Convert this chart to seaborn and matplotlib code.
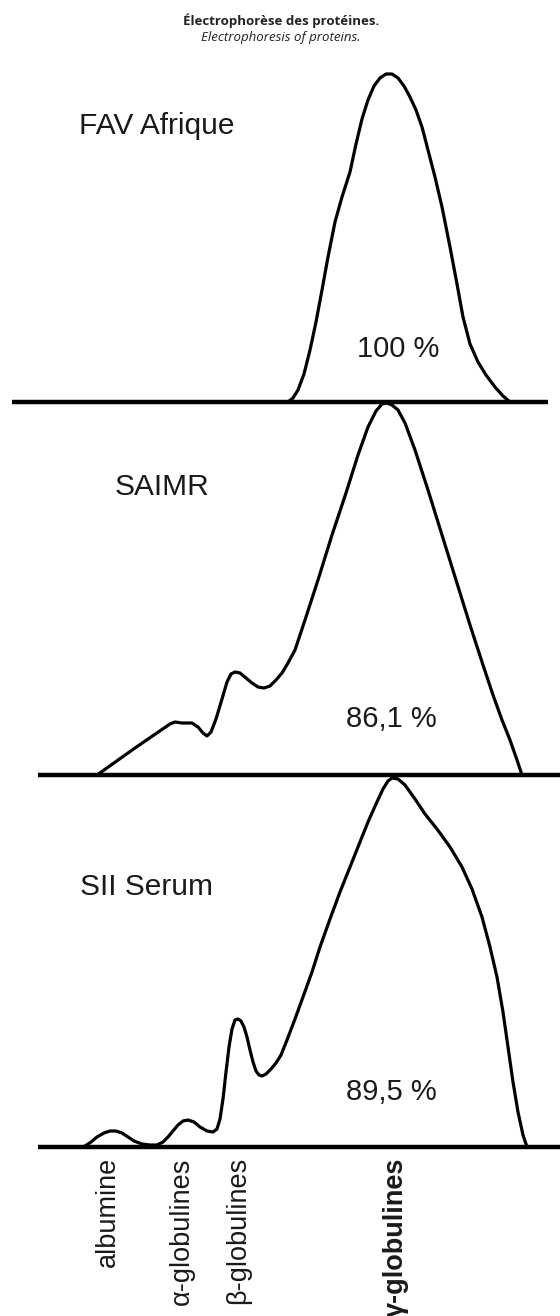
"""
Protein electrophoresis profiles of three antivenoms
"""

import numpy as np
import pandas as pd
import matplotlib
matplotlib.use("Agg")
import matplotlib.pyplot as plt
import seaborn as sns

# ============================================================================
# DATA (migration position, relative absorbance)
# ============================================================================

fav_x = [288, 293, 298, 304, 310, 316, 322, 328, 335, 342, 350, 356, 362,
         368, 374, 380, 386, 392, 398, 404, 410, 416, 422, 428, 435, 442,
         450, 457, 463, 470, 478, 486, 495, 503, 510]
fav_y = [0, 4, 12, 28, 52, 80, 112, 145, 180, 205, 230, 258, 283,
         302, 316, 324, 328, 328, 324, 316, 305, 292, 275, 252, 225, 195,
         155, 118, 85, 58, 40, 27, 15, 6, 0]

saimr_x = [97, 135, 170, 175, 182, 192, 198, 203, 207, 211, 216, 222, 227,
           231, 235, 240, 246, 252, 258, 264, 270, 276, 282, 288, 295, 305,
           318, 332, 346, 358, 368, 376, 382, 387, 392, 398, 405, 415, 428,
           442, 456, 470, 483, 493, 502, 510, 517, 522]
saimr_y = [0, 27, 51, 53, 52, 52, 48, 42, 39, 43, 56, 76, 93,
           101, 103, 102, 97, 92, 88, 87, 89, 95, 102, 112, 125, 155,
           195, 240, 282, 320, 348, 364, 371, 372, 370, 365, 352, 325, 285,
           240, 195, 150, 110, 80, 55, 35, 15, 0]

sii_x = [85, 91, 97, 104, 110, 116, 122, 128, 134, 142, 150, 157, 163, 168,
         173, 178, 183, 188, 194, 200, 207, 213, 217, 220, 223, 226, 229,
         232, 235, 238, 241, 244, 247, 250, 253, 256, 259, 262, 266, 271,
         276, 281, 287, 295, 303, 312, 320, 330, 340, 350, 360, 368, 376,
         383, 388, 392, 398, 405, 415, 425, 437, 450, 462, 472, 482, 490,
         497, 503, 508, 513, 518, 523, 527]
sii_y = [1, 5, 10, 14, 16, 16, 14, 10, 6, 3, 2, 2, 5, 10,
         16, 22, 26, 27, 25, 20, 16, 15, 18, 28, 48, 75, 100,
         118, 127, 128, 126, 120, 110, 97, 85, 76, 72, 71, 73, 78,
         84, 92, 107, 128, 150, 175, 200, 228, 255, 280, 305, 325, 343,
         358, 366, 369, 368, 362, 348, 333, 318, 300, 280, 258, 230, 200,
         170, 135, 100, 65, 35, 12, 0]

panels = ["FAV Afrique", "SAIMR", "SII Serum"]
percents = ["100 %", "86,1 %", "89,5 %"]
fractions = ["albumine", "α-globulines", "β-globulines", "γ-globulines"]
fraction_pos = [108, 182, 238, 396]

curves = [(fav_x, fav_y), (saimr_x, saimr_y), (sii_x, sii_y)]

# ============================================================================
# FIGURE
# ============================================================================

sns.set_style("white")
plt.rcParams['font.family'] = ['Liberation Sans', 'DejaVu Sans']

W, H = 560, 1316
fig = plt.figure(figsize=(W / 100, H / 100), dpi=100)

baselines = [402, 775, 1147]        # pixel row of each baseline
base_start = [12, 38, 38]
base_end = [548, 560, 560]
name_pos = [(79, 276), (115, 288), (80, 260)]
pct_pos = [(398, 53), (391, 56), (391, 55)]
y_lo, y_hi = -6, 380

axes = []
for k in range(3):
    yb = baselines[k]
    ax = fig.add_axes([0, 1 - (yb - y_lo) / H, 1, (y_hi - y_lo) / H])
    ax.patch.set_alpha(0)
    df = pd.DataFrame({'x': curves[k][0], 'y': curves[k][1]})
    sns.lineplot(data=df, x='x', y='y', sort=False, color='black', lw=2.3,
                 ax=ax, solid_joinstyle='round', solid_capstyle='round')
    ax.plot([base_start[k], base_end[k]], [0, 0], color='black', lw=3.2,
            solid_capstyle='butt')
    ax.text(name_pos[k][0], name_pos[k][1], panels[k], fontsize=21.5,
            ha='left', va='center', color='#1a1a1a')
    ax.text(pct_pos[k][0], pct_pos[k][1], percents[k], fontsize=21,
            ha='center', va='center', color='#1a1a1a')
    ax.set_xlim(0, W)
    ax.set_ylim(y_lo, y_hi)
    ax.set_xlabel('')
    ax.set_ylabel('')
    ax.set_yticks([])
    sns.despine(ax=ax, left=True, bottom=True)
    axes.append(ax)

# fraction labels under the last profile
ax = axes[-1]
ax.set_xticks(fraction_pos)
ax.set_xticklabels(fractions, rotation=90, fontsize=19.5, va='top',
                   ha='center', color='#1a1a1a')
ax.tick_params(axis='x', length=0, pad=3)
ax.get_xticklabels()[-1].set_fontweight('bold')
for k in range(2):
    axes[k].set_xticks([])

fig.text(281 / W, 1 - 21 / H, "Électrophorèse des protéines.",
         fontsize=9.5, fontweight='bold', ha='center', va='center',
         family=['Open Sans', 'DejaVu Sans'], color='#222222')
fig.text(281 / W, 1 - 37 / H, "Electrophoresis of proteins.",
         fontsize=9.5, style='italic', ha='center', va='center',
         family=['Open Sans', 'DejaVu Sans'], color='#222222')

plt.savefig('out.png', dpi=100)
plt.close()
